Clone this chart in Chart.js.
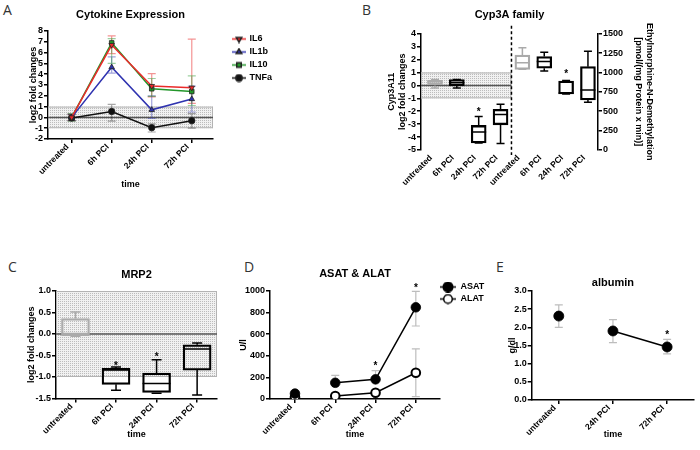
<!DOCTYPE html>
<html>
<head>
<meta charset="utf-8">
<script src="https://cdn.jsdelivr.net/npm/chart.js@4.4.0/dist/chart.umd.min.js"></script>
<style>
body{margin:0;background:#fff;width:700px;height:450px;position:relative;overflow:hidden}
canvas{position:absolute}
.lt{position:absolute;font:14px "Open Sans",sans-serif;color:#333;line-height:14px}
</style>
</head>
<body>
<div class="lt" style="left:3px;top:3px">A</div>
<div class="lt" style="left:362px;top:3px">B</div>
<div class="lt" style="left:8px;top:260px">C</div>
<div class="lt" style="left:244px;top:260px">D</div>
<div class="lt" style="left:496px;top:260px">E</div>
<canvas id="cA" style="left:0;top:0" width="300" height="200"></canvas>
<canvas id="cB" style="left:360px;top:0" width="300" height="225"></canvas>
<canvas id="cC" style="left:0;top:225px" width="230" height="225"></canvas>
<canvas id="cD" style="left:230px;top:225px" width="270" height="225"></canvas>
<canvas id="cE" style="left:480px;top:225px" width="220" height="225"></canvas>
<script>
// ---- data ----
const timeCats = ["untreated", "6h PCI", "24h PCI", "72h PCI"];

// A: cytokines, log2 fold change, mean + error range
const il6 = [0, 6.7, 2.9, 2.75];
const il6Lo = [-0.3, 5.9, 1.9, 1.3];
const il6Hi = [0.3, 7.55, 4.05, 7.25];
const il1b = [0, 4.65, 0.7, 1.7];
const il1bLo = [-0.3, 4.1, -0.1, 0.5];
const il1bHi = [0.3, 5.6, 2.0, 2.9];
const il10 = [0, 6.9, 2.65, 2.4];
const il10Lo = [-0.35, 5.0, 1.95, 1.1];
const il10Hi = [0.35, 7.3, 3.6, 3.85];
const tnfa = [-0.05, 0.55, -0.95, -0.3];
const tnfaLo = [-0.3, -0.35, -1.35, -1.0];
const tnfaHi = [0.25, 1.2, -0.6, 0.35];

// B: Cyp3A11 (left) and ethylmorphine-N-demethylation (right), box plots
const cypCats = ["untreated", "6h PCI", "24h PCI", "72h PCI", "untreated", "6h PCI", "24h PCI", "72h PCI"];
const cypMin = [-0.2, -0.2, -4.45, -4.5];
const cypQ1 = [0.0, -0.05, -4.45, -3.05];
const cypMed = [0.3, 0.2, -3.6, -2.25];
const cypQ3 = [0.4, 0.45, -3.1, -1.85];
const cypMax = [0.45, 0.45, -2.4, -1.45];
const cypStars = [null, null, -1.9, null];
const emMin = [1040, 1020, 722, 615];
const emQ1 = [1040, 1055, 722, 645];
const emMed = [1125, 1140, 735, 775];
const emQ3 = [1225, 1205, 890, 1075];
const emMax = [1320, 1260, 898, 1275];
const emStars = [null, null, 997, null];

// C: MRP2 box plots
const mrpMin = [-0.05, -1.31, -1.38, -1.42];
const mrpQ1 = [-0.04, -1.17, -1.36, -0.84];
const mrpMed = [0.01, -0.84, -1.15, -0.35];
const mrpQ3 = [0.36, -0.8, -0.91, -0.25];
const mrpMax = [0.51, -0.77, -0.6, -0.21];
const mrpStars = [null, -0.7, -0.49, null];

// D: ASAT & ALAT (U/l)
const asat = [50, 150, 182, 849];
const asatLo = [45, 130, 165, 676];
const asatHi = [60, 219, 262, 997];
const alat = [18, 28, 58, 243];
const alatLo = [12, 22, 50, 22];
const alatHi = [25, 34, 66, 464];
const liverStars = [null, null, 324, 1046];

// E: albumin (g/dl)
const albCats = ["untreated", "24h PCI", "72h PCI"];
const albumin = [2.31, 1.9, 1.46];
const albLo = [2.0, 1.58, 1.27];
const albHi = [2.62, 2.21, 1.67];
const albStars = [null, null, 1.85];

// ---- helpers ----
Chart.defaults.font.family = '"Liberation Sans", Arial, sans-serif';
Chart.defaults.color = '#000';
Chart.defaults.animation = false;
const tickFont = {size: 9, weight: 'bold'};
const axTitleFont = {size: 9, weight: 'bold', lineHeight: 1.25};

function pts(vals) { return vals.map((v, i) => ({x: i, y: v})); }

function dots(ctx) {
  const c = document.createElement('canvas');
  c.width = 2; c.height = 2;
  const g = c.getContext('2d');
  g.fillStyle = '#f1f1f1'; g.fillRect(0, 0, 2, 2);
  g.fillStyle = '#bcbcbc'; g.fillRect(0, 0, 1, 1);
  return ctx.createPattern(c, 'repeat');
}

function xAxis(cats, min, max, height, title, line) {
  return {
    type: 'linear', position: 'bottom', min, max, offset: false,
    afterBuildTicks: s => { s.ticks = cats.map((c, i) => ({value: i})); },
    afterFit: s => { s.height = height; },
    ticks: {autoSkip: false, minRotation: 45, maxRotation: 45, font: {size: 8.5, weight: 'bold'},
      padding: -1, labelOffset: -4, callback: v => cats[v]},
    grid: {display: line, offset: false, drawOnChartArea: false, tickLength: 4, color: '#000', lineWidth: 1.5},
    border: {display: line, color: '#000', width: 1.5},
    title: {display: !!title, text: 'time', font: {size: 9, weight: 'bold'}, padding: {top: 0, bottom: 9.6}}
  };
}

function yAxis(pos, min, max, step, width, text, pad, fmt) {
  return {
    type: 'linear', position: pos, min, max,
    afterFit: s => { s.width = width; },
    ticks: {stepSize: step, autoSkip: false, font: tickFont, padding: 1, callback: fmt || (v => v)},
    grid: {drawOnChartArea: false, tickLength: 4, color: '#000', lineWidth: 1.5},
    border: {color: '#000', width: 1.5},
    title: {display: true, text, font: axTitleFont, padding: {top: pad, bottom: 0}}
  };
}

function chartTitle(text, top, bottom) {
  return {display: true, text, color: '#000', font: {size: 11, weight: 'bold'}, padding: {top, bottom}, fullSize: false};
}

function icon(ds, w, h) {
  const c = document.createElement('canvas');
  c.width = w; c.height = h;
  const g = c.getContext('2d');
  g.strokeStyle = ds.borderColor; g.lineWidth = 1.5;
  g.beginPath(); g.moveTo(0, h / 2); g.lineTo(w, h / 2); g.stroke();
  g.fillStyle = ds.pointBackgroundColor; g.strokeStyle = ds.pointBorderColor;
  Chart.helpers.drawPoint(g, {pointStyle: ds.pointStyle, rotation: ds.pointRotation || 0,
    radius: ds.pointRadius, borderWidth: ds.pointBorderWidth}, w / 2, h / 2);
  return c;
}

function legendOpts(boxW, pad, w, h) {
  return {
    display: true, position: 'right', fullSize: false, align: 'start',
    labels: {
      usePointStyle: true, pointStyleWidth: boxW, padding: pad, color: '#000', font: {size: 9, weight: 'bold'},
      generateLabels: chart => chart.data.datasets.map((d, i) => ({
        text: d.label, pointStyle: icon(d, w, h), fontColor: '#000', datasetIndex: i,
        lineWidth: 0, strokeStyle: 'rgba(0,0,0,0)', fillStyle: 'rgba(0,0,0,0)'
      }))
    }
  };
}

function legendPlacer(width, left, top) {
  return {
    id: 'legendPlacer',
    beforeLayout(chart) {
      const lg = chart.legend;
      if (lg && !lg._fixed) {
        const fit = lg.fit.bind(lg);
        lg.fit = function () { fit(); this.width = width; };
        lg._fixed = true;
      }
    },
    afterLayout(chart) {
      const lg = chart.legend;
      if (!lg) return;
      lg.left = left; lg.right = left + width; lg.top = top; lg.bottom = top + 200;
    }
  };
}

function overlay(cfg) {
  return {
    id: 'overlay',
    beforeDatasetsDraw(chart) {
      const {ctx, chartArea: a, scales} = chart;
      const xs = scales.x;
      ctx.save();
      if (cfg.band) {
        const ys = scales.y;
        const x1 = cfg.band.xEnd == null ? a.right : xs.getPixelForValue(cfg.band.xEnd);
        const yT = Math.max(ys.getPixelForValue(cfg.band.hi), a.top);
        const yB = ys.getPixelForValue(cfg.band.lo);
        ctx.fillStyle = dots(ctx);
        ctx.fillRect(a.left, yT, x1 - a.left, yB - yT);
        ctx.strokeStyle = '#b3b3b3'; ctx.lineWidth = 1;
        ctx.strokeRect(a.left + 0.5, yT + 0.5, x1 - a.left - 1, yB - yT - 1);
        const y0 = ys.getPixelForValue(0);
        ctx.strokeStyle = '#555'; ctx.lineWidth = 1.5;
        ctx.beginPath(); ctx.moveTo(a.left, y0); ctx.lineTo(x1, y0); ctx.stroke();
      }
      if (cfg.divider != null) {
        const x = xs.getPixelForValue(cfg.divider);
        ctx.strokeStyle = '#000'; ctx.lineWidth = 1.5; ctx.setLineDash([3, 2.5]);
        ctx.beginPath(); ctx.moveTo(x, a.top - 8); ctx.lineTo(x, a.bottom + 5); ctx.stroke();
        ctx.setLineDash([]);
      }
      (cfg.errors || []).forEach(e => {
        const ys = scales.y;
        ctx.strokeStyle = e.color; ctx.lineWidth = 1.2;
        e.lo.forEach((lo, i) => {
          const x = xs.getPixelForValue(i);
          const yl = ys.getPixelForValue(lo), yh = ys.getPixelForValue(e.hi[i]);
          ctx.beginPath();
          ctx.moveTo(x, yl); ctx.lineTo(x, yh);
          ctx.moveTo(x - e.cap, yl); ctx.lineTo(x + e.cap, yl);
          ctx.moveTo(x - e.cap, yh); ctx.lineTo(x + e.cap, yh);
          ctx.stroke();
        });
      });
      ctx.restore();
    },
    afterDatasetsDraw(chart) {
      const {ctx, scales} = chart;
      const xs = scales.x;
      ctx.save();
      (cfg.boxes || []).forEach(b => {
        const ys = scales[b.axis];
        chart.getDatasetMeta(b.dataset).data.forEach((el, i) => {
          const {x, width} = el.getProps(['x', 'width'], true);
          const yMin = ys.getPixelForValue(b.min[i]), yMax = ys.getPixelForValue(b.max[i]);
          const yQ1 = ys.getPixelForValue(b.q1[i]), yQ3 = ys.getPixelForValue(b.q3[i]);
          const yMed = ys.getPixelForValue(b.med[i]);
          ctx.strokeStyle = b.colors[i]; ctx.lineWidth = 1.5;
          ctx.beginPath();
          ctx.moveTo(x, yQ3); ctx.lineTo(x, yMax);
          ctx.moveTo(x - b.cap, yMax); ctx.lineTo(x + b.cap, yMax);
          ctx.moveTo(x, yQ1); ctx.lineTo(x, yMin);
          ctx.moveTo(x - b.cap, yMin); ctx.lineTo(x + b.cap, yMin);
          ctx.moveTo(x - width / 2, yMed); ctx.lineTo(x + width / 2, yMed);
          ctx.stroke();
        });
      });
      (cfg.stars || []).forEach(s => {
        const ys = scales[s.axis || 'y'];
        ctx.fillStyle = '#000';
        ctx.font = 'bold 10px "Liberation Sans", Arial, sans-serif';
        ctx.textAlign = 'center'; ctx.textBaseline = 'middle';
        s.values.forEach((v, i) => {
          if (v == null) return;
          ctx.fillText('*', xs.getPixelForValue(i + (s.dx || 0)), ys.getPixelForValue(v) + 2);
        });
      });
      ctx.restore();
    }
  };
}

function lineSet(label, vals, color, style, rot, r) {
  return {
    label, data: pts(vals), borderColor: color, borderWidth: 1.5,
    pointStyle: style, pointRotation: rot || 0, pointRadius: r || 3.2,
    pointBackgroundColor: color, pointBorderColor: '#222', pointBorderWidth: 0.8
  };
}

function boxSet(q1, q3, colors, axis, dx, thick) {
  return {
    type: 'bar', yAxisID: axis, grouped: false, barThickness: thick,
    data: q1.map((v, i) => ({x: i + dx, y: [v, q3[i]]})),
    backgroundColor: 'rgba(0,0,0,0)', borderColor: colors, borderWidth: 1.6, borderSkipped: false
  };
}

const base = {responsive: false, devicePixelRatio: 1, events: []};

// ---- A: Cytokine Expression ----
new Chart(document.getElementById('cA'), {
  type: 'line',
  data: {datasets: [
    lineSet('IL6', il6, '#ea2a2a', 'triangle', 180),
    lineSet('IL1b', il1b, '#2f33b0', 'triangle', 0),
    lineSet('IL10', il10, '#23962a', 'rect', 0),
    lineSet('TNFa', tnfa, '#111', 'circle', 0)
  ]},
  options: Object.assign({}, base, {
    layout: {padding: 0},
    scales: {
      x: xAxis(timeCats, -0.59, 3.53, 61, true, true),
      y: yAxis('left', -2, 8, 1, 48, 'log2 fold changes', 27.6)
    },
    plugins: {
      title: chartTitle('Cytokine Expression', 8.4, 9.4),
      legend: legendOpts(12, 4, 14, 9),
      tooltip: {enabled: false}
    }
  }),
  plugins: [legendPlacer(87, 229, 30.5), overlay({
    band: {lo: -1, hi: 1},
    errors: [
      {lo: il6Lo, hi: il6Hi, color: 'rgba(234,42,42,0.5)', cap: 4},
      {lo: il1bLo, hi: il1bHi, color: 'rgba(47,51,176,0.45)', cap: 4},
      {lo: il10Lo, hi: il10Hi, color: 'rgba(35,150,42,0.45)', cap: 4},
      {lo: tnfaLo, hi: tnfaHi, color: 'rgba(0,0,0,0.35)', cap: 4}
    ]
  })]
});

// ---- B: Cyp3A family ----
const greyBlack = ['#aaa', '#000', '#000', '#000'];
new Chart(document.getElementById('cB'), {
  type: 'bar',
  data: {datasets: [
    boxSet(cypQ1, cypQ3, greyBlack, 'y', 0, 15),
    boxSet(emQ1, emQ3, greyBlack, 'y2', 4, 15)
  ]},
  options: Object.assign({}, base, {
    scales: {
      x: xAxis(cypCats, -0.64, 7.46, 75, false, false),
      y: yAxis('left', -5, 4, 1, 61, ['Cyp3A11', 'log2 fold changes'], 26),
      y2: yAxis('right', 0, 1500, 250, 62, ['Ethylmorphine-N-Demethylation', '[pmol/(mg Protein x min)]'], 4.4)
    },
    plugins: {
      title: chartTitle('Cyp3A family', 8.4, 12.1),
      legend: {display: false},
      tooltip: {enabled: false}
    }
  }),
  plugins: [overlay({
    band: {lo: -1, hi: 1, xEnd: 3.5},
    divider: 3.5,
    boxes: [
      {dataset: 0, axis: 'y', min: cypMin, q1: cypQ1, med: cypMed, q3: cypQ3, max: cypMax, colors: greyBlack, cap: 4},
      {dataset: 1, axis: 'y2', min: emMin, q1: emQ1, med: emMed, q3: emQ3, max: emMax, colors: greyBlack, cap: 4}
    ],
    stars: [{values: cypStars, axis: 'y'}, {values: emStars, axis: 'y2', dx: 4}]
  })]
});

// ---- C: MRP2 ----
new Chart(document.getElementById('cC'), {
  type: 'bar',
  data: {datasets: [boxSet(mrpQ1, mrpQ3, greyBlack, 'y', 0, 28)]},
  options: Object.assign({}, base, {
    layout: {padding: {right: 13}},
    scales: {
      x: xAxis(timeCats, -0.48, 3.49, 51.5, true, true),
      y: yAxis('left', -1.5, 1, 0.5, 56, 'log2 fold changes', 26.3, v => v.toFixed(1))
    },
    plugins: {
      title: chartTitle('MRP2', 43.4, 9.4),
      legend: {display: false},
      tooltip: {enabled: false}
    }
  }),
  plugins: [overlay({
    band: {lo: -1, hi: 1},
    boxes: [{dataset: 0, axis: 'y', min: mrpMin, q1: mrpQ1, med: mrpMed, q3: mrpQ3, max: mrpMax, colors: greyBlack, cap: 5}],
    stars: [{values: mrpStars}]
  })]
});

// ---- D: ASAT & ALAT ----
const hideFirst = {borderColor: c => c.p0DataIndex === 0 ? 'rgba(0,0,0,0)' : '#000'};
new Chart(document.getElementById('cD'), {
  type: 'line',
  data: {datasets: [
    Object.assign(lineSet('ASAT', asat, '#000', 'circle', 0, 4.8), {pointBackgroundColor: '#000', pointBorderColor: '#000', segment: hideFirst}),
    Object.assign(lineSet('ALAT', alat, '#000', 'circle', 0, 4.3), {pointBackgroundColor: '#fff', pointBorderColor: '#000', pointBorderWidth: 2, segment: hideFirst})
  ]},
  options: Object.assign({}, base, {
    scales: {
      x: xAxis(timeCats, -0.62, 3.6, 51, true, true),
      y: yAxis('left', 0, 1000, 200, 40, 'U/l', 7.6)
    },
    plugins: {
      title: chartTitle('ASAT & ALAT', 42.4, 10.4),
      legend: legendOpts(16, 3, 16, 11),
      tooltip: {enabled: false}
    }
  }),
  plugins: [legendPlacer(60, 207, 54.5), overlay({
    errors: [
      {lo: asatLo, hi: asatHi, color: '#bdbdbd', cap: 4},
      {lo: alatLo, hi: alatHi, color: '#bdbdbd', cap: 4}
    ],
    stars: [{values: liverStars}]
  })]
});

// ---- E: albumin ----
new Chart(document.getElementById('cE'), {
  type: 'line',
  data: {datasets: [
    Object.assign(lineSet('albumin', albumin, '#000', 'circle', 0, 5), {pointBackgroundColor: '#000', pointBorderColor: '#000', segment: hideFirst})
  ]},
  options: Object.assign({}, base, {
    layout: {padding: {right: 3.3}},
    scales: {
      x: xAxis(albCats, -0.5, 2.5, 50, true, true),
      y: yAxis('left', 0, 3, 0.5, 51.7, 'g/dl', 26.6, v => v.toFixed(1))
    },
    plugins: {
      title: chartTitle('albumin', 51.4, 1.4),
      legend: {display: false},
      tooltip: {enabled: false}
    }
  }),
  plugins: [overlay({
    errors: [{lo: albLo, hi: albHi, color: '#bdbdbd', cap: 4}],
    stars: [{values: albStars}]
  })]
});
</script>
</body>
</html>
